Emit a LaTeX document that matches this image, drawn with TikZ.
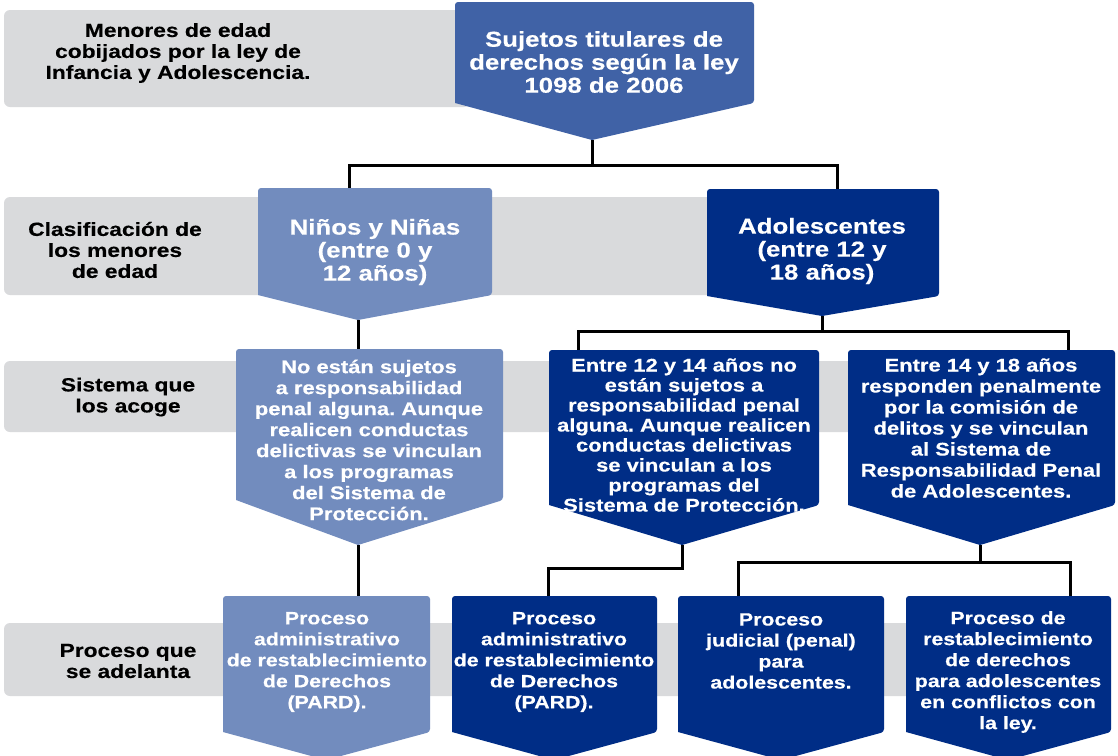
\documentclass[tikz,border=0pt]{standalone}
\usepackage{fontspec}
\setmainfont{Liberation Sans}[FakeStretch=1.2, BoldFeatures={FakeBold=0.4}]
\frenchspacing
\definecolor{gband}{RGB}{217,218,220}
\definecolor{midblue}{RGB}{64,98,166}
\definecolor{lightblue}{RGB}{114,140,190}
\definecolor{darkblue}{RGB}{0,45,134}
\tikzset{
  band/.style={fill=gband, rounded corners=6pt},
  conn/.style={line width=3pt, black},
  boxtext/.style={text=white, align=center, inner sep=0pt, font=\bfseries\fontsize{18.3}{21}\selectfont},
  bigtext/.style={boxtext, font=\bfseries\fontsize{21.5}{23}\selectfont},
  smalltext/.style={boxtext, font=\bfseries\fontsize{17.8}{21}\selectfont},
  labtext/.style={text=black, align=center, inner sep=0pt, font=\bfseries\fontsize{19}{21}\selectfont},
}
% #1 name, #2 colour, #3 x1, #4 x2, #5 ytop, #6 ybot, #7 xtip, #8 ytip
\newcommand\pentbox[8]{%
  \fill[#2] (#7,#8) -- (#3,#6) [rounded corners=3pt] -- (#3,#5) -- (#4,#5) -- (#4,#6) [sharp corners] -- cycle;
  \coordinate (#1-tip) at (#7,#8);
}
\begin{document}
\begin{tikzpicture}[x=1pt,y=-1pt]
\useasboundingbox (0,0) rectangle (1118,755);
\clip (0,0) rectangle (1118,755);
\fill[white] (0,0) rectangle (1118,755);

% gray bands
\fill[band] (4,10) rectangle (470,107);
\fill[band] (4,197) rectangle (720,295);
\fill[band] (4,361) rectangle (860,432);
\fill[band] (4,623) rectangle (915,696);

% band labels
\node[labtext] (l1) at (178,53) {Menores de edad\\cobijados por la ley de\\Infancia y Adolescencia.};
\node[labtext] (l2) at (115,250) {Clasificación de\\los menores\\de edad};
\node[labtext] (l3) at (128,397) {Sistema que\\los acoge};
\node[labtext] (l4) at (128,661) {Proceso que\\se adelanta};

% boxes
\pentbox{T}{midblue}{455}{754}{2}{103}{592}{140}
\pentbox{N}{lightblue}{258}{492}{188}{295}{358}{320}
\pentbox{D}{darkblue}{707}{939}{189}{296}{822}{316}
\pentbox{R1}{lightblue}{236}{503}{349}{500}{358}{545}
\pentbox{R2}{darkblue}{549}{819}{350}{505}{682}{545}
\pentbox{R3}{darkblue}{848}{1115}{350}{505}{980}{545}
\pentbox{A}{lightblue}{223}{430}{596}{732}{326}{760}
\pentbox{B}{darkblue}{452}{657}{596}{732}{554}{760}
\pentbox{C}{darkblue}{678}{884}{596}{732}{781}{760}
\pentbox{E}{darkblue}{906}{1111}{596}{732}{1008}{760}

% box texts
\node[bigtext] (t) at (604,62) {Sujetos titulares de\\derechos según la ley\\1098 de 2006};
\node[bigtext] (n) at (375,252) {Niños y Niñas\\(entre 0 y\\12 años)};
\node[bigtext] (d) at (822,251) {Adolescentes\\(entre 12 y\\18 años)};
\node[boxtext] (r1) at (369,440) {No están sujetos\\a responsabilidad\\penal alguna. Aunque\\realicen conductas\\delictivas se vinculan\\a los programas\\del Sistema de\\Protección.};
\node[boxtext, font=\bfseries\fontsize{18.3}{20}\selectfont] (r2) at (684,435) {Entre 12 y 14 años no\\están sujetos a\\responsabilidad penal\\alguna. Aunque realicen\\conductas delictivas\\se vinculan a los\\programas del\\Sistema de Protección.};
\node[boxtext] (r3) at (981,428) {Entre 14 y 18 años\\responden penalmente\\por la comisión de\\delitos y se vinculan\\al Sistema de\\Responsabilidad Penal\\de Adolescentes.};
\node[smalltext] (a) at (327,662) {Proceso\\administrativo\\de restablecimiento\\de Derechos\\(PARD).};
\node[smalltext] (b) at (554,662) {Proceso\\administrativo\\de restablecimiento\\de Derechos\\(PARD).};
\node[smalltext] (c) at (781,651) {Proceso\\judicial (penal)\\para\\adolescentes.};
\node[smalltext] (e) at (1008,672) {Proceso de\\restablecimiento\\de derechos\\para adolescentes\\en conflictos con\\la ley.};

% connector points
\coordinate (N-top) at (349,188);
\coordinate (D-top) at (837,189);
\coordinate (j1) at (592,165);
\coordinate (R1-top) at (358,349);
\coordinate (R2-top) at (578,350);
\coordinate (R3-top) at (1068,350);
\coordinate (j2) at (822,331);
\coordinate (A-top) at (358,596);
\coordinate (B-top) at (548,596);
\coordinate (j3) at (682,568);
\coordinate (C-top) at (738,596);
\coordinate (E-top) at (1070,596);
\coordinate (j4) at (980,562);

% connectors
\draw[conn] (T-tip) -- (j1);
\draw[conn] (N-top) |- (j1) -| (D-top);
\draw[conn] (D-tip) -- (j2);
\draw[conn] (R2-top) |- (j2) -| (R3-top);
\draw[conn] (N-tip) -- (R1-top);
\draw[conn] (R1-tip) -- (A-top);
\draw[conn] (R2-tip) -- (j3) -| (B-top);
\draw[conn] (R3-tip) -- (j4);
\draw[conn] (C-top) |- (j4) -| (E-top);
\end{tikzpicture}
\end{document}
